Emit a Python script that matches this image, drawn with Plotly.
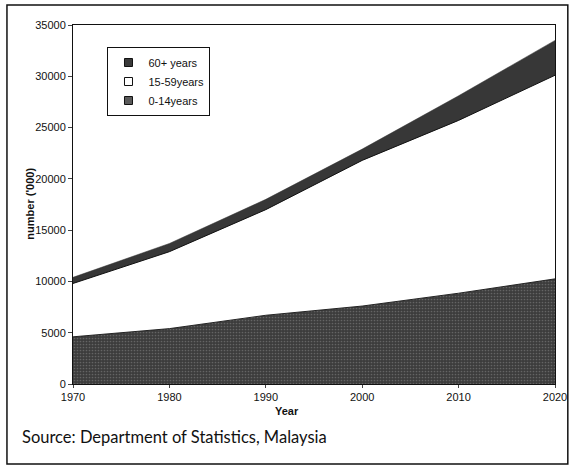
import plotly.graph_objects as go

years = [1970, 1980, 1990, 2000, 2010, 2020]
age_0_14 = [4600, 5400, 6700, 7600, 8850, 10250]
age_15_59 = [5200, 7500, 10300, 14200, 16850, 19850]
age_60_plus = [600, 800, 1000, 1100, 2400, 3400]
y_ticks = [0, 5000, 10000, 15000, 20000, 25000, 30000, 35000]

L, R, T, B = 73, 17, 25, 87
W, H = 579, 471
pw, ph = W - L - R, H - T - B

def px(x):
    return (x - L) / pw

def py(y):
    return (H - B - y) / ph

fig = go.Figure()
fig.add_trace(go.Scatter(
    x=years, y=age_0_14, name="0-14years", stackgroup="s", mode="lines",
    line=dict(color="#222", width=1), showlegend=False,
    fillcolor="#4a4a4a",
    fillpattern=dict(shape=".", bgcolor="#3c3c3c", fgcolor="#8c8c8c", size=3, solidity=0.25),
))
fig.add_trace(go.Scatter(
    x=years, y=age_15_59, name="15-59years", stackgroup="s", mode="lines",
    line=dict(color="#111", width=1), fillcolor="#ffffff", showlegend=False,
))
fig.add_trace(go.Scatter(
    x=years, y=age_60_plus, name="60+ years", stackgroup="s", mode="lines",
    line=dict(color="#333", width=0.5), fillcolor="#373737", showlegend=False,
))

# legend entries (square swatches as in the original)
for name, col in [("0-14years", "#5a5a5a"), ("15-59years", "#ffffff"), ("60+ years", "#3a3a3a")]:
    fig.add_trace(go.Scatter(
        x=[None], y=[None], mode="markers", name=name,
        marker=dict(symbol="square", size=8, color=col, line=dict(color="#111", width=1)),
    ))

axis_font = dict(family="Liberation Sans, Arial", size=11, color="#111")
fig.update_layout(
    width=W, height=H,
    margin=dict(l=L, r=R, t=T, b=B),
    paper_bgcolor="white", plot_bgcolor="white",
    showlegend=True,
    legend=dict(
        x=px(108), y=py(47), xanchor="left", yanchor="top",
        bordercolor="#111", borderwidth=1, bgcolor="white",
        font=dict(family="Liberation Sans, Arial", size=11, color="#111"),
        traceorder="reversed", itemwidth=30, tracegroupgap=0,
    ),
    xaxis=dict(
        range=[1970, 2020], tickvals=years, ticks="outside", ticklen=3,
        showline=True, linecolor="#111", linewidth=1, mirror=True,
        showgrid=False, zeroline=False, tickfont=axis_font,
    ),
    yaxis=dict(
        range=[0, 35000], tickvals=y_ticks, tickformat="d", ticks="outside", ticklen=4,
        showline=True, linecolor="#111", linewidth=1, mirror=True,
        showgrid=False, zeroline=False, tickfont=axis_font,
    ),
    shapes=[dict(
        type="rect", xref="paper", yref="paper",
        x0=px(6), x1=px(575), y0=py(464), y1=py(5),
        line=dict(color="#111", width=1.5), fillcolor="rgba(0,0,0,0)", layer="below",
    )],
    annotations=[
        dict(text="<b>Year</b>", xref="paper", yref="paper", x=px(290), y=py(411),
             xanchor="center", yanchor="middle", showarrow=False,
             font=dict(family="Liberation Sans, Arial", size=11, color="#111")),
        dict(text="<b>number ('000)</b>", xref="paper", yref="paper", x=px(29), y=py(204),
             xanchor="center", yanchor="middle", textangle=-90, showarrow=False,
             font=dict(family="Liberation Sans, Arial", size=11, color="#111")),
        dict(text="Source: Department of Statistics, Malaysia", xref="paper", yref="paper",
             x=px(19), y=py(437), xanchor="left", yanchor="middle", showarrow=False,
             font=dict(family="Lato, Noto Sans", size=16.5, color="#111")),
    ],
)

fig.write_html("out.html", config={"displayModeBar": False},
               post_script="document.body.style.margin='0';document.body.style.overflow='hidden';")
